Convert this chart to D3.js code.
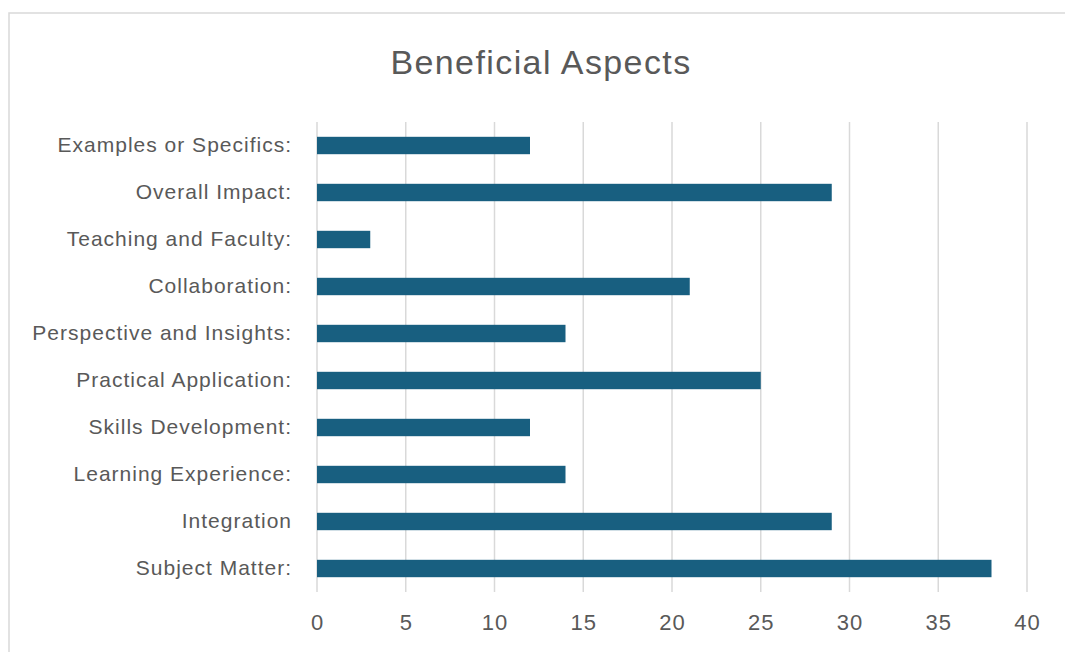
<!DOCTYPE html>
<html>
<head>
<meta charset="utf-8">
<script src="https://cdn.jsdelivr.net/npm/d3@7"></script>
<style>
  html, body { margin: 0; padding: 0; background: #fff; }
  svg { display: block; }
  text { font-family: "Liberation Sans", Arial, sans-serif; fill: #595959; }
</style>
</head>
<body>
<svg id="chart" width="1065" height="652"></svg>
<script>
// Categories listed top to bottom
const categories = [
  "Examples or Specifics:",
  "Overall Impact:",
  "Teaching and Faculty:",
  "Collaboration:",
  "Perspective and Insights:",
  "Practical Application:",
  "Skills Development:",
  "Learning Experience:",
  "Integration",
  "Subject Matter:"
];
const values = [12, 29, 3, 21, 14, 25, 12, 14, 29, 38];
const xTicks = [0, 5, 10, 15, 20, 25, 30, 35, 40];
const chartTitle = "Beneficial Aspects";

const svg = d3.select("#chart");
const W = 1065, H = 652;
const margin = { left: 317, right: 38, top: 122, bottom: 60 };

// Chart frame
svg.append("rect")
  .attr("x", 9).attr("y", 13)
  .attr("width", W + 10).attr("height", H + 10)
  .attr("fill", "#fff")
  .attr("stroke", "#d9d9d9").attr("stroke-width", 1.5);

const x = d3.scaleLinear().domain([0, 40]).range([margin.left, W - margin.right]);
const y = d3.scaleBand().domain(categories)
  .range([margin.top, H - margin.bottom])
  .paddingInner(0.63).paddingOuter(0.315);

// Vertical gridlines
svg.append("g").selectAll("line").data(xTicks).join("line")
  .attr("x1", d => x(d)).attr("x2", d => x(d))
  .attr("y1", margin.top).attr("y2", H - margin.bottom)
  .attr("stroke", "#d9d9d9").attr("stroke-width", 1.5);

// Bars
svg.append("g").selectAll("rect").data(categories).join("rect")
  .attr("x", x(0))
  .attr("y", d => y(d))
  .attr("width", (d, i) => x(values[i]) - x(0))
  .attr("height", y.bandwidth())
  .attr("fill", "#185f80");

// Category axis labels
const yAxis = d3.axisLeft(y).tickSize(0).tickPadding(25);
const gy = svg.append("g").attr("transform", `translate(${x(0)},0)`).call(yAxis);
gy.select(".domain").remove();
gy.selectAll("text")
  .style("font-size", "21px")
  .style("letter-spacing", "1px")
  .attr("fill", "#595959")
  .style("font-family", '"Liberation Sans", Arial, sans-serif');

// Value axis labels
const xAxis = d3.axisBottom(x).tickValues(xTicks).tickSize(0).tickPadding(22);
const gx = svg.append("g").attr("transform", `translate(0,${H - margin.bottom})`).call(xAxis);
gx.select(".domain").remove();
gx.selectAll("text")
  .style("font-size", "22px")
  .style("letter-spacing", "1px")
  .attr("fill", "#595959")
  .style("font-family", '"Liberation Sans", Arial, sans-serif');

// Title
svg.append("text")
  .attr("x", 541).attr("y", 74)
  .attr("text-anchor", "middle")
  .style("font-size", "34px")
  .style("letter-spacing", "1.4px")
  .text(chartTitle);
</script>
</body>
</html>
